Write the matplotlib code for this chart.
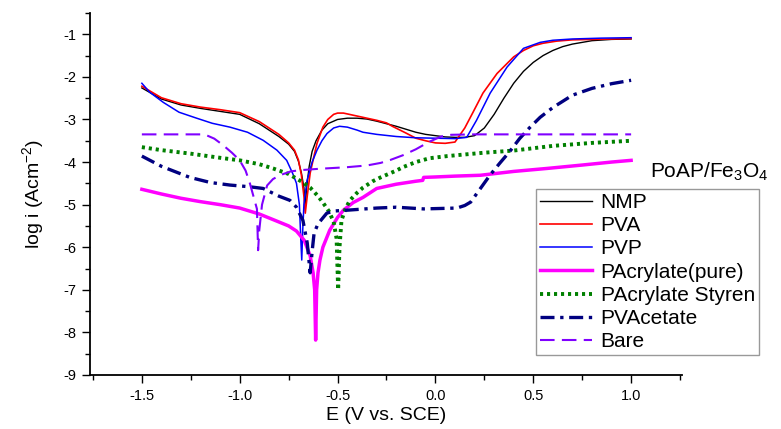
import matplotlib
matplotlib.use("Agg")
import matplotlib.pyplot as plt
from matplotlib.ticker import MultipleLocator

plt.rcParams['font.family'] = ['Liberation Sans', 'DejaVu Sans']
plt.rcParams['mathtext.default'] = 'regular'

# ---------------- data ----------------
nmp_E = [-1.5, -1.4, -1.3, -1.2, -1.1, -1.0, -0.9, -0.8, -0.75, -0.72, -0.70, -0.685, -0.672, -0.665,
         -0.658, -0.645, -0.63, -0.61, -0.58, -0.55, -0.5, -0.45, -0.4, -0.35, -0.3, -0.25, -0.2, -0.15,
         -0.1, -0.05, 0.0, 0.05, 0.1, 0.15, 0.2, 0.25, 0.3, 0.35, 0.4, 0.45, 0.5, 0.55, 0.6, 0.65, 0.7,
         0.8, 0.9, 1.0]
nmp_i = [-2.26, -2.52, -2.66, -2.74, -2.81, -2.88, -3.1, -3.4, -3.58, -3.75, -3.98, -4.25, -4.6, -5.0,
         -4.6, -4.1, -3.75, -3.5, -3.25, -3.1, -3.0, -2.97, -2.97, -2.99, -3.04, -3.1, -3.16, -3.23,
         -3.3, -3.35, -3.38, -3.41, -3.42, -3.42, -3.38, -3.2, -2.88, -2.5, -2.15, -1.87, -1.66, -1.5,
         -1.38, -1.29, -1.23, -1.15, -1.12, -1.11]

pva_E = [-1.5, -1.4, -1.3, -1.2, -1.1, -1.0, -0.9, -0.8, -0.75, -0.72, -0.70, -0.685, -0.672, -0.665,
         -0.655, -0.64, -0.62, -0.605, -0.575, -0.55, -0.52, -0.5, -0.47, -0.42, -0.37, -0.3, -0.25,
         -0.22, -0.15, -0.1, -0.05, 0.0, 0.05, 0.1, 0.15, 0.19, 0.243, 0.315, 0.4, 0.45, 0.5, 0.55,
         0.62, 0.7, 0.8, 1.0]
pva_i = [-2.22, -2.49, -2.63, -2.71, -2.77, -2.84, -3.05, -3.35, -3.55, -3.72, -3.95, -4.3, -4.8, -5.2,
         -4.8, -4.26, -3.85, -3.56, -3.18, -3.0, -2.88, -2.85, -2.85, -2.9, -2.95, -3.02, -3.08,
         -3.16, -3.32, -3.44, -3.5, -3.55, -3.56, -3.53, -3.2, -2.85, -2.38, -1.92, -1.53, -1.38,
         -1.27, -1.21, -1.16, -1.13, -1.12, -1.1]

pvp_E = [-1.5, -1.46, -1.39, -1.31, -1.22, -1.14, -1.05, -0.96, -0.88, -0.81, -0.76, -0.73, -0.71,
         -0.695, -0.688, -0.683, -0.678, -0.672, -0.656, -0.63, -0.605, -0.58, -0.554, -0.52, -0.49,
         -0.45, -0.4, -0.37, -0.3, -0.2, -0.1, 0.0, 0.1, 0.16, 0.21, 0.28, 0.366, 0.45, 0.535, 0.6,
         0.7, 0.85, 1.0]
pvp_i = [-2.15, -2.36, -2.6, -2.83, -2.97, -3.09, -3.18, -3.3, -3.49, -3.72, -3.96, -4.26, -4.5,
         -5.0, -5.8, -6.3, -5.6, -5.0, -4.43, -4.0, -3.72, -3.5, -3.33, -3.2, -3.16,
         -3.18, -3.25, -3.3, -3.35, -3.4, -3.43, -3.44, -3.45, -3.42, -3.02, -2.38, -1.77, -1.33,
         -1.19, -1.14, -1.11, -1.09, -1.08]

pacr_E = [-1.5, -1.4, -1.3, -1.2, -1.1, -1.0, -0.9, -0.83, -0.75, -0.71, -0.67, -0.64, -0.625, -0.617,
          -0.612, -0.607, -0.6, -0.59, -0.575, -0.54, -0.5, -0.47, -0.42, -0.37, -0.3, -0.2, -0.1,
          -0.065, -0.06, 0.0, 0.1, 0.23, 0.4, 0.57, 0.75, 0.9, 1.0]
pacr_i = [-4.64, -4.75, -4.85, -4.93, -5.0, -5.08, -5.22, -5.35, -5.5, -5.62, -5.84, -6.2, -6.6, -7.0,
          -8.18, -7.0, -6.6, -6.3, -6.0, -5.6, -5.3, -5.13, -4.95, -4.83, -4.62, -4.52, -4.45,
          -4.43, -4.36, -4.35, -4.33, -4.31, -4.22, -4.15, -4.07, -4.0, -3.96]

pacs_E = [-1.5, -1.4, -1.255, -1.1, -1.0, -0.9, -0.83, -0.75, -0.68, -0.64, -0.6, -0.575, -0.545,
          -0.52, -0.505, -0.497, -0.49, -0.48, -0.46, -0.437, -0.4, -0.37, -0.32, -0.28, -0.2,
          -0.166, -0.1, -0.03, 0.06, 0.13, 0.25, 0.4, 0.6, 0.8, 1.0]
pacs_i = [-3.65, -3.72, -3.8, -3.9, -3.96, -4.05, -4.15, -4.28, -4.47, -4.6, -4.8, -4.95, -5.15,
          -5.4, -5.8, -7.0, -6.0, -5.37, -5.1, -4.9, -4.72, -4.6, -4.45, -4.36, -4.2,
          -4.12, -4.0, -3.91, -3.86, -3.83, -3.78, -3.73, -3.62, -3.55, -3.5]

pvac_E = [-1.5, -1.4, -1.255, -1.15, -1.05, -0.95, -0.88, -0.8, -0.743, -0.71, -0.677, -0.655, -0.64,
          -0.63, -0.62, -0.6, -0.555, -0.52, -0.45, -0.3, -0.2, -0.06, 0.11, 0.15, 0.18, 0.23,
          0.28, 0.33, 0.38, 0.43, 0.48, 0.535, 0.6, 0.7, 0.8, 0.9, 1.0]
pvac_i = [-3.86, -4.1, -4.36, -4.48, -4.54, -4.58, -4.62, -4.8, -4.9, -5.06, -5.37, -5.9, -6.6,
          -6.1, -5.67, -5.45, -5.2, -5.15, -5.13, -5.08, -5.06, -5.1, -5.08, -5.02, -4.94, -4.62,
          -4.3, -4.02, -3.75, -3.45, -3.2, -2.95, -2.72, -2.43, -2.27, -2.16, -2.08]

bare_E = [-1.5, -1.18, -1.13, -1.086, -1.04, -1.0, -0.97, -0.948, -0.93, -0.912, -0.906, -0.9, -0.886,
          -0.86, -0.83, -0.795, -0.74, -0.69, -0.6, -0.45, -0.35, -0.28, -0.23, -0.166, -0.1, -0.03,
          0.03, 0.08, 0.2, 1.0]
bare_i = [-3.35, -3.35, -3.45, -3.6, -3.78, -3.96, -4.2, -4.5, -4.8, -5.1, -6.07, -5.6, -5.0,
          -4.55, -4.4, -4.31, -4.22, -4.19, -4.16, -4.12, -4.08, -4.02, -3.95, -3.84, -3.7, -3.52,
          -3.4, -3.36, -3.35, -3.35]

labels = ["NMP", "PVA", "PVP", "PAcrylate(pure)", "PAcrylate Styren", "PVAcetate", "Bare"]
x_ticks = [-1.5, -1.0, -0.5, 0.0, 0.5, 1.0]
y_ticks = [-9, -8, -7, -6, -5, -4, -3, -2, -1]

# ---------------- figure ----------------
fig = plt.figure(figsize=(7.81, 4.29), dpi=100)
ax = fig.add_axes([90/781, 54/429, (682-90)/781, (416-54)/429])

ax.plot(nmp_E, nmp_i, color='black', lw=1.0, label=labels[0])
ax.plot(pva_E, pva_i, color='#ff0000', lw=1.2, label=labels[1])
ax.plot(pvp_E, pvp_i, color='#0000ff', lw=1.1, label=labels[2])
ax.plot(pacr_E, pacr_i, color='#ff00ff', lw=2.5, label=labels[3])
ax.plot(pacs_E, pacs_i, color='#008000', lw=2.8, ls=(0, (0.8, 1.0)), label=labels[4])
ax.plot(pvac_E, pvac_i, color='#000080', lw=2.4, ls=(0, (4.2, 1.7, 1.0, 1.7)), label=labels[5])
ax.plot(bare_E, bare_i, color='#8000ff', lw=1.5, ls=(0, (7, 3.5)), label=labels[6])

ax.set_xlim(-1.765, 1.26)
ax.set_ylim(-9, -0.5)
ax.set_xticks(x_ticks)
ax.set_xticklabels([f"{v:.1f}" for v in x_ticks])
ax.set_yticks(y_ticks)
ax.set_yticklabels([str(v) for v in y_ticks])
ax.xaxis.set_minor_locator(MultipleLocator(0.25))
ax.yaxis.set_minor_locator(MultipleLocator(0.5))
ax.tick_params(which='major', direction='out', length=6, width=1.0, labelsize=10.5, pad=4)
ax.tick_params(which='minor', direction='out', length=3.5, width=1.0)
for s in ['top', 'right']:
    ax.spines[s].set_visible(False)
for s in ['left', 'bottom']:
    ax.spines[s].set_linewidth(1.3)

ax.set_xlabel("E (V vs. SCE)", fontsize=14, labelpad=3)
ax.set_ylabel("log i (Acm$^{-2}$)", fontsize=14, labelpad=12)

leg = fig.legend(loc='upper left', bbox_to_anchor=(536/781, 1 - 189/429), borderaxespad=0,
                 fontsize=15, frameon=True, fancybox=False, edgecolor='#808080',
                 handlelength=2.5, handletextpad=0.4, labelspacing=0.2, borderpad=0.2)
leg.get_frame().set_linewidth(1.0)

fig.text(650/781, 1 - 172/429, "PoAP/Fe$_3$O$_4$", fontsize=15, va='center', ha='left')

fig.savefig("out.png", dpi=100)
